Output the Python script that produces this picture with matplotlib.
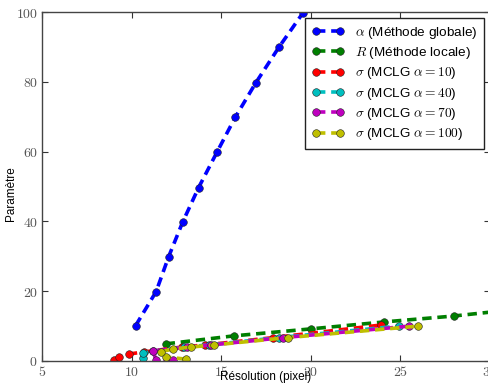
import matplotlib
matplotlib.use("Agg")
import matplotlib.pyplot as plt

plt.rcParams['font.family'] = ['Liberation Sans', 'DejaVu Sans']
plt.rcParams['mathtext.fontset'] = 'cm'

# Data
res_global = [10.22, 11.37, 12.06, 12.85, 13.74, 14.76, 15.78, 16.93, 18.22, 19.57]
alpha_global = [10.1, 19.9, 29.8, 39.8, 49.7, 59.8, 69.8, 79.7, 89.9, 99.8]

res_local = [11.9, 15.7, 20.0, 24.1, 28.0, 32.0]
r_local = [4.9, 7.2, 9.2, 11.2, 12.9, 15.1]

res_a10 = [9.0, 9.3, 9.85, 10.7, 12.8, 14.1, 17.9, 23.9]
sig_a10 = [0.4, 1.1, 2.0, 2.6, 4.0, 4.6, 6.7, 10.3]

res_a40 = [10.65, 10.65, 11.2, 12.95, 14.3, 18.2, 24.9]
sig_a40 = [1.0, 2.2, 2.8, 4.0, 4.6, 6.7, 10.0]

res_a70 = [12.3, 11.35, 11.2, 13.1, 14.45, 18.45, 25.5]
sig_a70 = [0.3, 0.4, 2.9, 4.0, 4.6, 6.7, 10.0]

res_a100 = [13.05, 11.9, 11.65, 12.3, 13.3, 14.6, 18.7, 26.0]
sig_a100 = [0.5, 1.2, 2.7, 3.4, 4.0, 4.6, 6.7, 10.0]

labels = [r'$\alpha$ (Méthode globale)', r'$R$ (Méthode locale)',
          r'$\sigma$ (MCLG $\alpha=10$)', r'$\sigma$ (MCLG $\alpha=40$)',
          r'$\sigma$ (MCLG $\alpha=70$)', r'$\sigma$ (MCLG $\alpha=100$)']
colors = ['#0000ff', '#007f00', '#ff0000', '#00bfbf', '#bf00bf', '#bfbf00']

xticks = [5, 10, 15, 20, 25, 30]
yticks = [0, 20, 40, 60, 80, 100]

fig = plt.figure(figsize=(4.88, 3.85), dpi=100)
ax = fig.add_axes([42/488, 1-361/385, 448/488, 349/385])

series = [(res_global, alpha_global), (res_local, r_local), (res_a10, sig_a10),
          (res_a40, sig_a40), (res_a70, sig_a70), (res_a100, sig_a100)]
for (xs, ys), c, lab in zip(series, colors, labels):
    ax.plot(xs, ys, linestyle=(0, (2.6, 1.6)), linewidth=2.6, color=c,
            marker='o', markersize=5.5, markerfacecolor=c,
            markeredgecolor='#222222', markeredgewidth=0.4, label=lab)

ax.set_xlim(5, 30)
ax.set_ylim(0, 100)
ax.set_xticks(xticks)
ax.set_yticks(yticks)
ax.set_xticklabels([f'${t}$' for t in xticks])
ax.set_yticklabels([f'${t}$' for t in yticks])
ax.tick_params(direction='in', top=True, right=True, length=4, width=0.8,
               labelsize=10, colors='#333333', labelcolor='#555555', pad=3)
for s in ax.spines.values():
    s.set_color('#444444')
    s.set_linewidth(1.0)

ax.set_xlabel('Résolution (pixel)', fontsize=8.5, va='top')
ax.xaxis.set_label_coords(0.5, -0.030)
ax.set_ylabel('Paramètre', fontsize=8.5)
ax.yaxis.set_label_coords(-0.056, 0.48)

leg = ax.legend(loc='upper right', numpoints=2, fancybox=False, fontsize=9.7,
                borderaxespad=0.45, handlelength=2.4, framealpha=1,
                edgecolor='#222222', labelspacing=0.32, borderpad=0.5)
leg.get_frame().set_linewidth(1.0)

fig.savefig('out.png', dpi=100, facecolor='white')
